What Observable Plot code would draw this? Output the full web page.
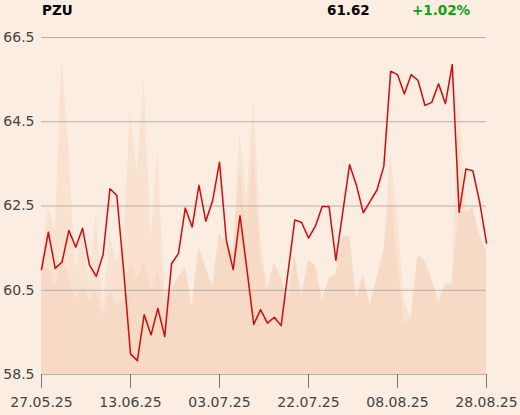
<!DOCTYPE html>
<html><head><meta charset="utf-8">
<script src="https://cdn.jsdelivr.net/npm/d3@7"></script>
<script src="https://cdn.jsdelivr.net/npm/@observablehq/plot@0.6"></script>
<style>
html,body{margin:0;padding:0;background:#fbede1;}
#wrap{position:relative;width:520px;height:415px;font-family:"DejaVu Sans",sans-serif;}
#hdr{position:absolute;top:0;left:0;width:520px;height:30px;font-weight:bold;font-size:13.5px;}
#hdr span{position:absolute;top:2px;white-space:nowrap;}
</style></head><body>
<div id="wrap"><div id="chart"></div><div id="hdr"></div></div>
<script>
const ticker = "PZU";
const lastPrice = "61.62";
const change = "+1.02%";

const price = [60.99,61.88,61.02,61.17,61.92,61.52,61.97,61.10,60.83,61.35,62.91,62.75,60.97,58.99,58.83,59.92,59.44,60.07,59.40,61.13,61.37,62.45,62.00,62.99,62.14,62.63,63.54,61.68,60.99,62.27,61.00,59.69,60.04,59.72,59.86,59.66,60.92,62.17,62.11,61.74,62.02,62.49,62.49,61.21,62.35,63.48,62.99,62.34,62.61,62.88,63.44,65.70,65.62,65.16,65.62,65.48,64.89,64.96,65.40,64.93,65.86,62.35,63.38,63.34,62.59,61.62];

// secondary (volume-like) areas, expressed in the chart's y units
const volLight = [61.09,62.46,61.92,66.03,63.82,60.97,61.97,60.66,62.39,60.09,61.85,61.16,61.68,64.72,63.27,65.55,61.73,63.82,60.49,60.49,60.80,61.04,60.09,61.52,61.04,60.57,61.85,61.61,61.44,64.22,62.63,65.08,61.80,60.49,61.14,60.80,60.26,61.33,60.33,61.21,61.09,60.26,60.76,60.87,61.75,61.78,60.30,60.85,60.14,60.78,61.42,63.75,62.23,60.26,59.83,61.33,61.18,60.78,60.21,60.64,60.64,65.19,62.35,62.44,61.80,61.44];
const volDark = [60.85,61.09,60.61,61.21,60.85,60.26,60.61,60.26,60.49,59.90,60.49,60.14,60.26,61.21,60.73,61.21,60.49,60.97,60.26,60.49,60.80,61.04,60.09,61.52,61.04,60.57,61.85,61.61,61.33,63.34,62.04,63.82,61.28,60.49,61.14,60.80,60.26,61.33,60.33,61.21,61.09,60.26,60.76,60.87,61.75,61.78,60.30,60.85,60.14,60.78,61.42,62.87,61.14,59.71,59.83,61.33,61.18,60.78,60.21,60.64,60.64,62.39,62.35,62.44,61.80,61.44];

const tickIndex = [0,13,26,39,52,65];
const tickLabels = ["27.05.25","13.06.25","03.07.25","22.07.25","08.08.25","28.08.25"];
const yTicks = [58.5,60.5,62.5,64.5,66.5];

const data = price.map((p,i)=>({i, p, a: volLight[i], b: volDark[i]}));

const hdr = document.getElementById("hdr");
hdr.innerHTML = `<span style="left:42px">${ticker}</span><span style="left:327px">${lastPrice}</span><span style="left:412px;color:#11a011">${change}</span>`;

const chart = Plot.plot({
  width: 520, height: 415,
  marginTop: 37, marginBottom: 41, marginLeft: 41, marginRight: 34,
  style: {background: "transparent", fontFamily: "DejaVu Sans, sans-serif", fontSize: "14px", color: "#444"},
  x: {domain: [0, 65], label: null},
  y: {domain: [58.5, 66.5], label: null},
  marks: [
    Plot.areaY(data, {x: "i", y1: 58.5, y2: "a", fill: "#f9e2d0"}),
    Plot.areaY(data, {x: "i", y1: 58.5, y2: "b", fill: "#f7dac5"}),
    Plot.ruleY(yTicks, {stroke: "#b4b0ac", strokeWidth: 1}),
    Plot.axisX({ticks: tickIndex, tickFormat: d => tickLabels[tickIndex.indexOf(d)], tickSize: 14, tickPadding: 9, stroke: "#777", fill: "#444"}),
    Plot.axisY({ticks: yTicks, tickFormat: d => d.toFixed(1), tickSize: 0, tickPadding: 7, fill: "#444"}),
    Plot.lineY(data, {x: "i", y: "p", stroke: "#d40a0a", strokeWidth: 1.5})
  ]
});
document.getElementById("chart").appendChild(chart);
</script>
</body></html>
